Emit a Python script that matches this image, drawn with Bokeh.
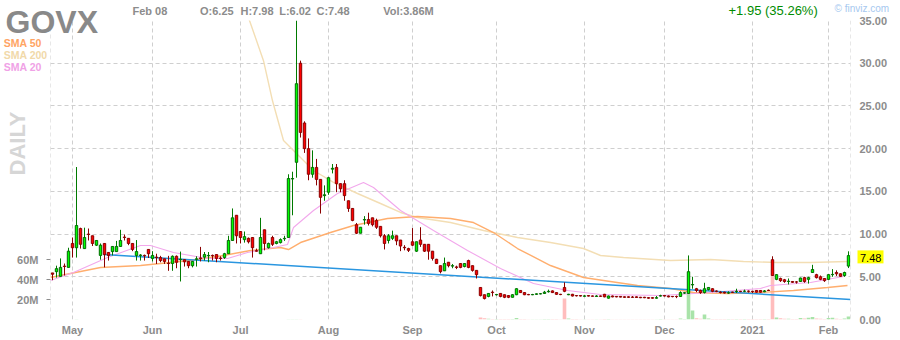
import math
import pandas as pd
from bokeh.plotting import figure
from bokeh.core.properties import value
from bokeh.models import Range1d, LinearAxis, FixedTicker, NumeralTickFormatter, Span, ColumnDataSource
from bokeh.embed import file_html
from bokeh.resources import INLINE

symbol = "GOVX"
first_day = "2020-04-24"
last_day = "2021-02-08"
holidays = ["2020-05-25", "2020-07-03", "2020-09-07", "2020-11-26",
            "2020-12-25", "2021-01-01", "2021-01-18"]

opens = [
    5.45, 5.6, 5.05, 6.25, 6.1, 8.9, 8.4, 10.65, 8.3, 10.0,
    9.8, 8.7, 7.5, 8.9, 7.85, 7.95, 7.95, 8.55, 9.65, 9.5,
    8.9, 7.5, 7.5, 7.5, 8.2, 7.15, 7.3, 7.25, 7.1, 6.6,
    6.55, 7.4, 7.0, 7.0, 6.8, 6.3, 7.05, 7.2, 7.3, 7.45,
    7.5, 7.6, 7.2, 7.25, 7.7, 9.25, 12.2, 10.3, 9.35, 9.5,
    9.6, 8.05, 7.7, 10.5, 8.4, 9.6, 8.9, 9.0, 9.45, 9.6,
    16.45, 18.4, 30.0, 23.0, 20.0, 17.0, 17.8, 16.4, 14.5, 14.9,
    17.6, 17.8, 15.9, 15.9, 13.9, 13.0, 11.1, 10.1, 11.65, 11.7,
    11.9, 11.6, 10.9, 9.8, 9.25, 9.5, 9.8, 9.3, 8.45, 8.3,
    9.1, 8.0, 9.3, 8.8, 8.8, 8.0, 7.05, 6.3, 5.7, 6.7,
    6.25, 6.15, 6.55, 6.2, 6.9, 6.3, 5.75, 3.75, 2.9, 2.7,
    3.2, 2.9, 3.05, 2.9, 2.8, 2.6, 2.9, 3.4, 3.15, 2.92,
    2.9, 2.95, 3.0, 3.05, 3.25, 3.35, 3.15, 2.95, 3.75, 2.9,
    2.95, 2.8, 2.8, 2.72, 2.8, 2.75, 2.7, 2.75, 2.95, 2.5,
    2.75, 2.7, 2.7, 2.65, 2.65, 2.62, 2.65, 2.6, 2.6, 2.55,
    2.55, 2.5, 2.75, 2.8, 2.75, 2.7, 2.7, 2.7, 3.1, 3.05,
    4.05, 3.6, 3.4, 3.15, 3.5, 3.6, 3.32, 3.2, 3.2, 3.1,
    3.2, 3.28, 3.3, 3.3, 3.32, 3.3, 3.4, 3.4, 3.25, 3.42,
    7.0, 4.7, 4.8, 4.65, 4.45, 4.45, 4.4, 4.45, 4.9, 4.7,
    5.5, 5.25, 5.0, 4.8, 4.7, 5.25, 5.5, 5.35, 5.15, 6.25,
]
highs = [
    5.45, 6.3, 7.15, 6.55, 8.4, 9.6, 17.85, 10.75, 10.75, 10.65,
    9.8, 9.3, 8.9, 8.9, 7.85, 8.55, 9.2, 10.5, 9.95, 9.5,
    8.9, 9.3, 7.65, 7.6, 8.2, 8.0, 7.7, 7.45, 7.1, 7.45,
    7.5, 7.5, 7.95, 7.0, 6.8, 6.8, 7.4, 8.5, 7.9, 7.9,
    7.6, 7.6, 7.4, 7.8, 9.8, 13.0, 12.2, 10.3, 10.3, 9.6,
    9.6, 8.3, 11.9, 10.5, 9.0, 9.8, 9.2, 9.5, 9.8, 17.0,
    17.3, 35.0, 30.3, 23.2, 21.2, 19.8, 18.8, 16.4, 15.7, 16.7,
    18.2, 18.2, 15.9, 16.3, 13.9, 13.0, 11.3, 10.8, 12.1, 12.5,
    11.9, 11.8, 10.9, 10.0, 10.0, 10.4, 9.8, 9.3, 8.7, 8.4,
    10.7, 9.1, 10.8, 8.8, 8.8, 8.0, 7.1, 6.3, 7.25, 6.7,
    6.5, 6.3, 6.6, 6.6, 7.0, 6.3, 5.75, 3.75, 2.9, 3.1,
    3.4, 3.0, 3.05, 2.9, 2.85, 2.95, 3.65, 3.45, 3.2, 3.0,
    3.0, 3.05, 3.1, 3.35, 3.5, 3.4, 3.2, 3.0, 4.35, 3.0,
    3.0, 2.85, 2.85, 2.85, 2.85, 2.8, 2.85, 2.8, 3.0, 2.8,
    2.8, 2.75, 2.75, 2.7, 2.7, 2.75, 2.7, 2.65, 2.65, 2.6,
    2.6, 2.75, 2.9, 2.85, 2.8, 2.75, 2.8, 3.3, 3.2, 7.5,
    5.0, 3.7, 3.5, 4.3, 3.8, 3.65, 3.4, 3.3, 3.25, 3.3,
    3.25, 3.6, 3.35, 3.5, 3.4, 3.35, 3.45, 3.45, 3.45, 3.5,
    7.4, 5.3, 4.9, 4.75, 4.8, 4.5, 4.5, 4.9, 5.0, 5.0,
    6.4, 5.35, 5.15, 4.85, 5.3, 5.9, 5.75, 5.4, 5.6, 7.98,
]
lows = [
    4.6, 4.9, 5.05, 5.15, 6.1, 7.25, 7.25, 8.3, 8.3, 9.25,
    8.6, 8.6, 7.0, 6.1, 6.9, 7.5, 7.95, 8.55, 9.25, 8.7,
    8.0, 6.9, 6.9, 6.9, 7.2, 6.8, 6.5, 6.7, 6.5, 5.7,
    5.7, 6.0, 4.45, 6.2, 6.0, 6.1, 6.2, 6.8, 6.9, 6.7,
    6.9, 6.7, 6.9, 7.1, 7.7, 9.25, 8.9, 8.9, 9.0, 8.9,
    7.25, 7.95, 7.7, 8.1, 8.3, 8.6, 8.8, 8.9, 9.2, 9.6,
    12.2, 16.6, 21.3, 19.5, 16.3, 16.6, 15.7, 12.4, 13.9, 14.6,
    17.1, 14.9, 14.9, 13.9, 12.6, 11.5, 10.0, 10.1, 11.1, 11.0,
    10.9, 10.6, 9.6, 8.2, 8.9, 9.3, 8.7, 8.0, 8.1, 7.9,
    8.6, 7.9, 8.5, 7.9, 7.0, 6.9, 6.5, 5.4, 5.7, 6.1,
    6.0, 5.9, 6.0, 6.1, 6.0, 5.6, 4.8, 2.7, 2.35, 2.6,
    2.7, 2.8, 2.6, 2.5, 2.5, 2.6, 2.85, 3.1, 2.85, 2.85,
    2.85, 2.9, 2.95, 3.0, 3.15, 3.1, 2.9, 2.85, 3.2, 2.85,
    2.7, 2.7, 2.7, 2.7, 2.7, 2.7, 2.65, 2.65, 2.6, 2.45,
    2.6, 2.6, 2.6, 2.55, 2.55, 2.55, 2.55, 2.5, 2.5, 2.45,
    2.45, 2.45, 2.7, 2.7, 2.6, 2.6, 2.5, 2.7, 3.0, 3.05,
    3.6, 3.2, 3.0, 3.05, 3.4, 3.2, 3.2, 3.05, 3.05, 3.0,
    3.1, 3.1, 3.2, 3.2, 3.15, 3.1, 3.15, 3.15, 3.2, 3.35,
    5.1, 4.6, 4.4, 4.3, 4.1, 4.3, 4.2, 4.4, 4.3, 4.2,
    5.45, 4.8, 4.6, 4.4, 4.6, 5.0, 5.1, 5.0, 5.0, 6.02,
]
closes = [
    5.3, 5.95, 6.1, 6.2, 8.0, 8.4, 11.0, 8.8, 9.6, 9.95,
    8.9, 9.25, 8.7, 7.6, 7.5, 8.55, 8.55, 9.25, 9.6, 8.9,
    8.2, 7.95, 7.55, 7.45, 7.7, 7.5, 7.25, 6.9, 6.8, 6.55,
    7.4, 6.7, 7.05, 6.75, 6.3, 6.8, 7.1, 7.15, 7.6, 7.5,
    7.45, 7.15, 7.15, 7.7, 9.25, 11.9, 9.8, 9.6, 9.7, 9.1,
    8.4, 8.0, 9.6, 8.9, 8.9, 8.8, 9.1, 9.35, 9.5, 16.5,
    16.5, 27.6, 21.9, 20.0, 17.0, 17.8, 16.4, 14.3, 14.6, 16.6,
    17.7, 15.9, 15.3, 14.5, 13.0, 11.6, 10.1, 10.8, 11.7, 11.25,
    11.1, 10.8, 9.8, 8.9, 9.8, 9.8, 9.2, 8.6, 8.4, 8.1,
    8.7, 9.1, 8.8, 8.0, 8.0, 7.15, 6.55, 5.6, 6.55, 6.3,
    6.3, 6.1, 6.1, 6.55, 6.1, 5.75, 5.25, 2.8, 2.45, 3.05,
    3.15, 2.92, 2.7, 2.6, 2.6, 2.9, 3.6, 3.15, 2.9, 2.9,
    2.92, 3.0, 3.02, 3.2, 3.3, 3.15, 2.95, 2.92, 3.3, 2.95,
    2.75, 2.78, 2.75, 2.76, 2.74, 2.73, 2.75, 2.72, 2.65, 2.75,
    2.65, 2.65, 2.62, 2.6, 2.6, 2.6, 2.58, 2.55, 2.55, 2.5,
    2.5, 2.55, 2.78, 2.75, 2.65, 2.68, 2.68, 3.15, 3.12, 5.6,
    4.1, 3.4, 3.15, 3.6, 3.75, 3.3, 3.3, 3.15, 3.1, 3.12,
    3.18, 3.3, 3.28, 3.32, 3.3, 3.28, 3.2, 3.2, 3.35, 3.4,
    5.15, 5.25, 4.55, 4.45, 4.48, 4.35, 4.38, 4.85, 4.45, 4.9,
    5.85, 4.9, 4.7, 4.55, 5.25, 5.28, 5.35, 5.05, 5.5, 7.48,
]
# volume in millions of shares
volumes_m = [
    0.1, 0.1, 0.1, 0.1, 0.1, 0.1, 0.2, 0.1, 0.1, 0.1,
    0.1, 0.1, 0.1, 0.1, 0.1, 0.1, 0.1, 0.1, 0.1, 0.1,
    0.1, 0.1, 0.1, 0.1, 0.1, 0.1, 0.1, 0.1, 0.1, 0.1,
    0.1, 0.1, 0.1, 0.1, 0.1, 0.1, 0.1, 0.1, 0.1, 0.1,
    0.1, 0.1, 0.1, 0.1, 0.1, 0.1, 0.1, 0.1, 0.1, 0.1,
    0.1, 0.1, 0.1, 0.1, 0.1, 0.1, 0.1, 0.1, 0.1, 0.2,
    0.2, 0.3, 0.2, 0.1, 0.1, 0.1, 0.1, 0.1, 0.1, 0.1,
    0.1, 0.1, 0.1, 0.1, 0.1, 0.1, 0.1, 0.1, 0.1, 0.1,
    0.1, 0.1, 0.1, 0.1, 0.1, 0.1, 0.1, 0.1, 0.1, 0.1,
    0.1, 0.1, 0.1, 0.1, 0.1, 0.1, 0.1, 0.1, 0.1, 0.1,
    0.1, 0.1, 0.1, 0.1, 0.1, 0.1, 0.1, 2.0, 1.2, 0.8,
    0.6, 0.4, 0.5, 0.4, 0.4, 0.5, 1.6, 0.6, 0.5, 0.3,
    0.3, 0.3, 0.3, 0.5, 0.6, 0.4, 0.4, 0.3, 21.0, 1.0,
    0.6, 0.4, 0.3, 0.3, 0.3, 0.3, 0.3, 0.3, 0.5, 0.4,
    0.3, 0.3, 0.3, 0.3, 0.3, 0.3, 0.3, 0.3, 0.3, 0.3,
    0.3, 0.3, 0.4, 0.3, 0.3, 0.3, 0.3, 1.0, 0.6, 28.0,
    9.0, 1.2, 0.8, 5.0, 1.0, 0.6, 0.4, 0.4, 0.4, 0.4,
    0.4, 0.4, 0.4, 0.4, 0.4, 0.4, 0.4, 0.4, 0.4, 0.4,
    50.0, 2.0, 1.2, 0.8, 0.8, 0.6, 0.5, 1.5, 1.0, 1.8,
    2.5, 1.0, 0.8, 0.6, 1.5, 1.8, 0.8, 0.6, 1.0, 3.0,
]

# moving averages and trend line (trading-day number, price)
sma200_day = [48.0, 49.25, 52.75, 55.0, 57.75, 62.0, 65.25, 70.25, 76.25, 82.0, 87.0, 91.25,
              99.5, 107.75, 116.25, 124.5, 132.75, 137.0, 142.75, 154.5, 164.5, 172.75,
              181.25, 189.5, 198.75]
sma200_val = [36.8, 35.0, 30.3, 25.6, 20.95, 18.96, 17.44, 16.04, 14.75, 13.58, 12.53, 11.94,
              11.35, 10.42, 9.6, 9.01, 8.31, 7.49, 7.26, 6.91, 7.02, 6.79,
              6.67, 6.67, 6.79]
sma50_day = [-0.5, 12.0, 22.0, 34.5, 42.75, 49.5, 57.0, 59.0, 62.0, 69.5, 75.25, 83.75,
             91.25, 99.5, 105.25, 110.25, 116.25, 124.5, 132.75, 137.75, 146.25, 154.5,
             160.25, 168.75, 177.0, 185.25, 193.75, 198.75]
sma50_val = [4.92, 6.09, 6.32, 6.91, 7.49, 8.08, 8.43, 8.19, 9.01, 10.18, 11.0, 11.82,
             12.06, 11.82, 11.35, 10.18, 8.31, 6.32, 4.92, 4.57, 3.98, 3.63,
             3.16, 3.04, 3.16, 3.39, 3.75, 3.98]
sma20_day = [-0.5, 5.25, 13.75, 22.0, 24.5, 30.25, 38.75, 43.75, 48.75, 55.25, 58.75, 60.25,
             65.25, 71.25, 77.75, 80.25, 87.0, 95.25, 103.75, 112.0, 120.25, 128.75,
             137.0, 152.0, 164.5, 177.0, 179.5, 189.5, 197.75]
sma20_val = [4.56, 5.5, 7.26, 8.66, 8.66, 7.84, 7.14, 7.14, 7.84, 8.43, 8.78, 10.77,
             12.76, 14.75, 16.04, 15.45, 12.76, 10.42, 8.08, 5.97, 4.21, 3.39,
             2.93, 2.81, 3.16, 3.63, 3.98, 4.33, 5.03]
trend_day = [12.75, 199.5]
trend_val = [7.61, 2.34]

price_ticks = [0, 5, 10, 15, 20, 25, 30, 35]
volume_ticks = [20, 40, 60]

days = pd.bdate_range(first_day, last_day, freq="C", holidays=holidays)
n = len(days)
assert n == len(opens) == len(highs) == len(lows) == len(closes) == len(volumes_m)

month_ticks, month_labels = [], {}
prev = None
for i, d in enumerate(days):
    key = (d.year, d.month)
    if prev is not None and key != prev:
        month_ticks.append(i)
        month_labels[i] = str(d.year) if d.month == 1 else d.strftime("%b")
    prev = key

up = [c >= o for o, c in zip(opens, closes)]
src = ColumnDataSource(dict(
    x=list(range(n)),
    high=highs, low=lows, vol=volumes_m,
    top=[max(o, c) for o, c in zip(opens, closes)],
    bottom=[min(o, c) for o, c in zip(opens, closes)],
    fill=["#00ff00" if u else "#ff0000" for u in up],
    edge=["#006a00" if u else "#8a0000" for u in up],
    wick=["#007a00" if u else "#8a0000" for u in up],
    vcol=["#a9e3a9" if u else "#ffbdbd" for u in up],
))

grey = "#8c8c8c"
gridc = "#cfcfcf"
FONT = "Liberation Sans"

p = figure(width=900, height=340, x_range=Range1d(-0.5, n - 0.5), y_range=Range1d(0, 35),
           y_axis_location="right", toolbar_location=None, output_backend="svg",
           min_border_left=50, min_border_right=50, min_border_top=20, min_border_bottom=21,
           outline_line_color=None, background_fill_color="white", border_fill_color="white")
p.extra_y_ranges = {"vol": Range1d(0, 300)}

price_axis = p.right[0]
time_axis = p.below[0]
price_axis.ticker = FixedTicker(ticks=price_ticks)
price_axis.formatter = NumeralTickFormatter(format="0.00")
time_axis.ticker = FixedTicker(ticks=month_ticks)
time_axis.major_label_overrides = month_labels

vol_axis = LinearAxis(y_range_name="vol", ticker=FixedTicker(ticks=volume_ticks),
                      major_label_overrides={v: f"{v}M" for v in volume_ticks})
p.add_layout(vol_axis, "left")

for ax in (time_axis, price_axis, vol_axis):
    ax.axis_line_color = None
    ax.major_tick_line_color = None
    ax.minor_tick_line_color = None
    ax.major_tick_out = 0
    ax.major_tick_in = 0
    ax.minor_tick_out = 0
    ax.minor_tick_in = 0
    ax.major_label_text_color = grey
    ax.major_label_text_font = FONT
    ax.major_label_text_font_size = "11px"
    ax.major_label_text_font_style = "bold"
time_axis.major_label_standoff = 4
price_axis.major_label_standoff = 9
vol_axis.major_tick_line_color = grey
vol_axis.major_tick_out = 4
vol_axis.major_label_standoff = 8

p.xgrid.ticker = FixedTicker(ticks=month_ticks)
p.ygrid.ticker = FixedTicker(ticks=price_ticks)
for g in (p.xgrid, p.ygrid):
    g.grid_line_color = gridc
    g.grid_line_dash = "4 3"
    g.grid_line_width = 1
for loc in (-0.5, n - 0.5):
    p.add_layout(Span(location=loc, dimension="height", line_color=gridc,
                      line_dash="4 3", line_width=1))

# volume
p.vbar(x="x", top="vol", bottom=0, width=0.9, fill_color="vcol", line_color=None,
       y_range_name="vol", source=src)

# moving averages / trend
p.line(sma200_day, sma200_val, line_color="#f3deb4", line_width=1.4)
p.line(sma50_day, sma50_val, line_color="#ffae6e", line_width=1.4)
p.line(sma20_day, sma20_val, line_color="#f2a8ec", line_width=1.1)
p.line(trend_day, trend_val, line_color="#2a96e0", line_width=1.5)

# candles
p.segment(x0="x", y0="low", x1="x", y1="high", line_color="wick", line_width=1, source=src)
p.vbar(x="x", top="top", bottom="bottom", width=0.6, fill_color="fill", line_color="edge",
       line_width=1, source=src)


def px_x(px):
    return (px - 52) / 4


def px_y(py):
    return (319 - py) / 8.543


DROP = 0.31  # measured offset (in em) of Bokeh's alphabetic anchor below the real baseline


def glyph_text(items, size, color, style="bold", angle=0.0, **kw):
    fs = float(size.replace("px", ""))
    xs, ys = [], []
    for _, a, b in items:
        if angle:
            xs.append(px_x(a - DROP * fs))
            ys.append(px_y(b))
        else:
            xs.append(px_x(a))
            ys.append(px_y(b - DROP * fs))
    p.text(x=xs, y=ys, text=[t for t, _, _ in items], text_font=value(FONT),
           text_font_size=value(size), text_font_style=style, text_color=color,
           text_align="left", text_baseline="alphabetic", angle=angle, level="overlay", **kw)


glyph_text([(symbol, 5, 31)], "32px", "#898989")
glyph_text([("Feb 08", 132, 14), ("O:6.25", 199.5, 14), ("H:7.98", 240, 14),
            ("L:6.02", 278.7, 14), ("C:7.48", 316, 14), ("Vol:3.86M", 382.7, 14)], "11px", grey)
glyph_text([("+1.95 (35.26%)", 728, 14.5)], "13px", "#008c00", style="normal")
glyph_text([("\u00a9 finviz.com", 834, 11)], "10px", "#a6c8ef", style="normal")
glyph_text([("SMA 50", 3.3, 45.7)], "10.5px", "#ffa463")
glyph_text([("SMA 200", 3.3, 57.3)], "10.5px", "#f1d9a9")
glyph_text([("SMA 20", 3.3, 70)], "10.5px", "#f0a2e6")
glyph_text([("DAILY", 24, 175)], "22px", "#d6d6d6", angle=math.pi / 2)

# last close marker on the price scale: yellow box centred on the last close
last = closes[-1]
half_box = 6.5 / 8.543
p.quad(left=[px_x(857)], right=[px_x(883)], bottom=[last - 0.15 - half_box],
       top=[last - 0.15 + half_box], fill_color="#ffff00", line_color=None, level="overlay")
glyph_text([(f"{last:.2f}", 859.5, 260.5)], "11px", "black", style="normal")

open("out.html", "w").write(file_html(p, INLINE))
